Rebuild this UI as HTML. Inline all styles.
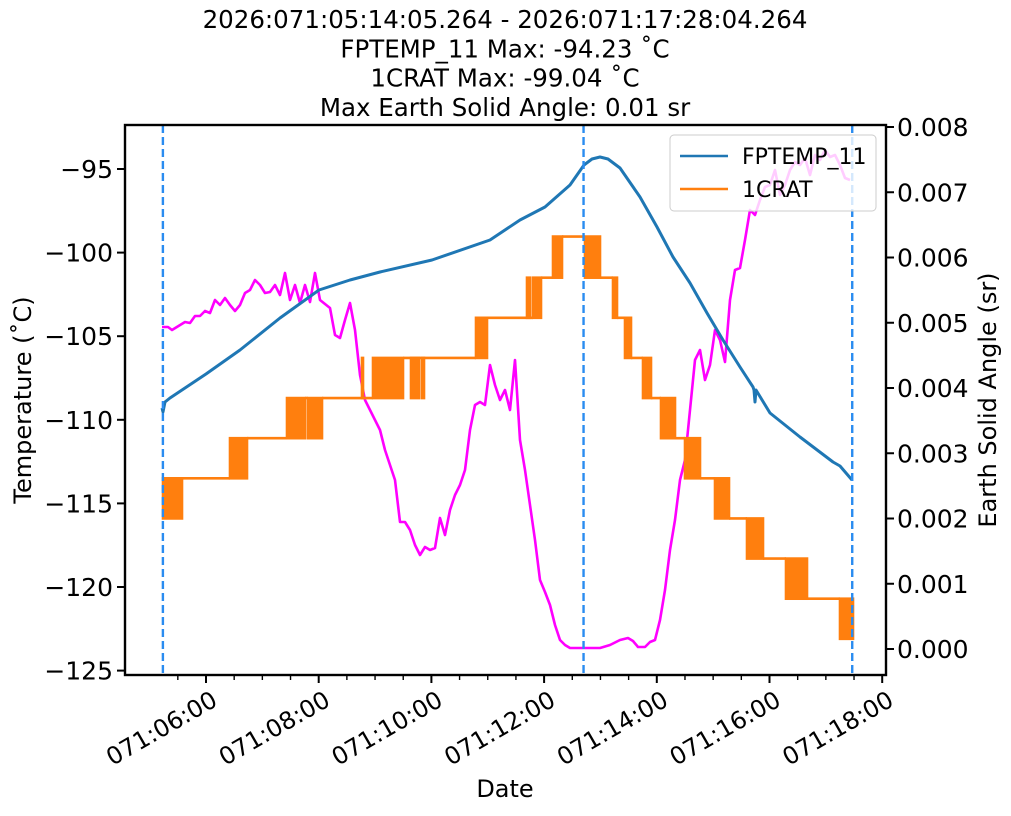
<!DOCTYPE html>
<html><head><meta charset="utf-8"><style>body{margin:0;background:#fff}svg text{font-family:"DejaVu Sans","Liberation Sans",sans-serif}</style></head>
<body>
<svg id="c" width="1011" height="811" xmlns="http://www.w3.org/2000/svg"></svg>
<script>
const xTicks=[6,8,10,12,14,16,18];
const xTickLabels=["071:06:00","071:08:00","071:10:00","071:12:00","071:14:00","071:16:00","071:18:00"];
const yTicks=[-95,-100,-105,-110,-115,-120,-125];
const y2Ticks=[0,0.001,0.002,0.003,0.004,0.005,0.006,0.007,0.008];
const vlines=[5.235,12.7,17.468];
const fpX=[162,163,165,170,206,240,280,319,350,380,432,490,520,545,570,584,592,600,608,620,640,657,673,690,707,723,740,753,754,755,756,770,800,833,840,852];
const fpY=[408,412,402,398,374,350,318,290,280,272,260,240,220,207,185,165,159,157,159,168,197,227,257,283,313,340,367,387,390,402,390,413,437,462,466,480];
const stepX0=[162,183,247,305,322,403,487,541,562,600,617,631,651,675,700,729,763,807];
const stepX1=[183,230,287,308,373,476,533,553,585,613,625,643,661,685,715,747,786,840];
const stepV=[-113.5,-113.5,-111.1,-108.7,-108.7,-106.3,-103.9,-101.5,-99.04,-101.5,-103.9,-106.3,-108.7,-111.1,-113.5,-115.9,-118.3,-120.7];
const bandX0=[163,230,287,308,362,373,411,422,476,527,533,553,585,613,625,643,661,685,715,747,786,840];
const bandX1=[182,247,305,322,363,403,419,424,487,530,541,562,600,617,631,651,675,700,729,763,807,853];
const bandLo=[-115.9,-113.5,-111.1,-111.1,-108.7,-108.7,-108.7,-108.7,-106.3,-103.9,-103.9,-101.5,-101.5,-103.9,-106.3,-108.7,-111.1,-113.5,-115.9,-118.3,-120.7,-123.1];
const bandHi=[-113.5,-111.1,-108.7,-108.7,-106.3,-106.3,-106.3,-106.3,-103.9,-101.5,-101.5,-99.04,-99.04,-101.5,-103.9,-106.3,-108.7,-111.1,-113.5,-115.9,-118.3,-120.7];
const esX=[162,168,172,185,190,195,200,205,210,215,220,225,230,235,240,245,250,255,260,265,270,275,280,285,290,295,300,305,310,315,320,330,335,340,345,350,355,360,365,370,375,380,385,390,395,400,405,410,415,420,425,430,435,440,445,450,455,460,465,470,475,480,485,490,495,500,505,510,515,520,525,530,535,540,545,550,555,560,565,570,580,600,610,620,628,633,638,645,650,655,660,665,670,675,680,685,690,695,700,705,710,715,720,725,730,735,740,745,750,755,760,765,770,775,780,785,790,795,800,805,810,815,820,825,830,835,840,845,850];
const esY=[327,327,330,322,323,316,316,311,313,300,305,298,305,311,305,293,290,280,285,293,292,285,295,273,300,285,303,285,302,273,300,308,335,338,320,303,330,375,400,410,420,430,450,465,480,522,522,530,545,555,547,550,548,518,535,510,495,485,470,430,405,402,405,365,385,400,390,410,360,440,470,505,540,580,592,605,625,640,645,648,648,648,645,640,638,641,647,647,642,640,620,590,550,520,480,460,410,360,350,380,365,330,340,362,300,270,268,240,210,215,200,187,185,170,195,185,170,162,165,158,175,155,160,150,157,155,165,178,180];
const pxToH=x=>6+(x-206)/56.35, pxToT=y=>-95-(y-169)/16.72, pxToE=y=>(649-y)/65250;
const fpT=fpX.map(pxToH), fpV=fpY.map(pxToT), esT=esX.map(pxToH), esV=esY.map(pxToE);
const L=125,R=886,T=125,B=675;
const X=h=>206+(h-6)*56.35, Y=v=>169-(v+95)*16.72, Y2=v=>649-v*65250;
const svg=document.getElementById('c'),NS="http://www.w3.org/2000/svg";
function el(t,a,txt){const e=document.createElementNS(NS,t);for(const k in a)e.setAttribute(k,a[k]);if(txt!==undefined)e.textContent=txt;svg.appendChild(e);return e;}
const titles=["2026:071:05:14:05.264 - 2026:071:17:28:04.264","FPTEMP_11 Max: -94.23 \u02daC","1CRAT Max: -99.04 \u02daC","Max Earth Solid Angle: 0.01 sr"];
titles.forEach((t,i)=>{const e=el('text',{x:505,y:28+i*29.3,'font-size':24.5,'text-anchor':'middle'},t);

});
function pl(xs,ys,c,w,n,fy){const p=el('polyline',{points:xs.map((x,i)=>X(x)+','+fy(ys[i])).join(' '),fill:'none',stroke:c,'stroke-width':w,'stroke-linejoin':'round'});

}
pl(esT,esV,'#ff00ff',2.6,'earth-solid-angle-line',Y2);
pl(fpT,fpV,'#1f77b4',3,'fptemp-11-line',Y);
{const g=el('g',{});
stepV.forEach((v,i)=>{const l=document.createElementNS(NS,'line');const a={x1:X(pxToH(stepX0[i])),x2:X(pxToH(stepX1[i])),y1:Y(v),y2:Y(v),stroke:'#ff7f0e','stroke-width':2.6};for(const k in a)l.setAttribute(k,a[k]);


g.appendChild(l);});
bandLo.forEach((lo,i)=>{const r=document.createElementNS(NS,'rect');const x0=X(pxToH(bandX0[i])),x1=X(pxToH(bandX1[i]));const a={x:x0-1.3,y:Y(bandHi[i])-1.3,width:x1-x0+2.6,height:Y(lo)-Y(bandHi[i])+2.6,fill:'#ff7f0e'};for(const k in a)r.setAttribute(k,a[k]);


g.appendChild(r);});}
vlines.forEach((h,i)=>{const l=el('line',{x1:X(h),x2:X(h),y1:T,y2:B,stroke:'#2a8cf0','stroke-width':2.4,'stroke-dasharray':'8,4'});

});
const fr=el('rect',{x:L,y:T,width:R-L,height:B-T,fill:'none',stroke:'#000','stroke-width':2.4});


for(let h=5.5;h<=18;h+=0.5){const x=X(h);const maj=h%2==0;el('line',{x1:x,x2:x,y1:B,y2:B+(maj?8:5),stroke:'#000','stroke-width':maj?2:1.4});}
xTicks.forEach((h,i)=>{const x=X(h);const t=el('text',{x:x+4,y:B+14,'font-size':24,'text-anchor':'end',transform:`rotate(-30 ${x+4} ${B+14})`,dy:'0.75em'},xTickLabels[i]);

});
yTicks.forEach(v=>{const y=Y(v);el('line',{x1:L-8,x2:L,y1:y,y2:y,stroke:'#000','stroke-width':2});
const t=el('text',{x:L-12,y:y+9,'font-size':25,'text-anchor':'end'},'\u2212'+Math.abs(v));

});
y2Ticks.forEach(v=>{const y=Y2(v);el('line',{x1:R,x2:R+8,y1:y,y2:y,stroke:'#000','stroke-width':2});
const t=el('text',{x:R+11,y:y+9,'font-size':25},v.toFixed(3));

});
let a=el('text',{x:505,y:797,'font-size':24,'text-anchor':'middle'},'Date');

a=el('text',{x:31,y:400,'font-size':24,'text-anchor':'middle',transform:'rotate(-90 31 400)'},'Temperature (\u02daC)');

a=el('text',{x:996,y:400,'font-size':24,'text-anchor':'middle',transform:'rotate(-90 996 400)'},'Earth Solid Angle (sr)');

const lg=el('rect',{x:670,y:135,width:206,height:76,rx:4,fill:'#fff','fill-opacity':0.8,stroke:'#ccc'});

[['FPTEMP_11','#1f77b4',156],['1CRAT','#ff7f0e',189]].forEach(([n,c,y])=>{el('line',{x1:680,x2:728,y1:y,y2:y,stroke:c,'stroke-width':2.6});
const t=el('text',{x:742,y:y+8,'font-size':22},n);
});
</script>
</body></html>
